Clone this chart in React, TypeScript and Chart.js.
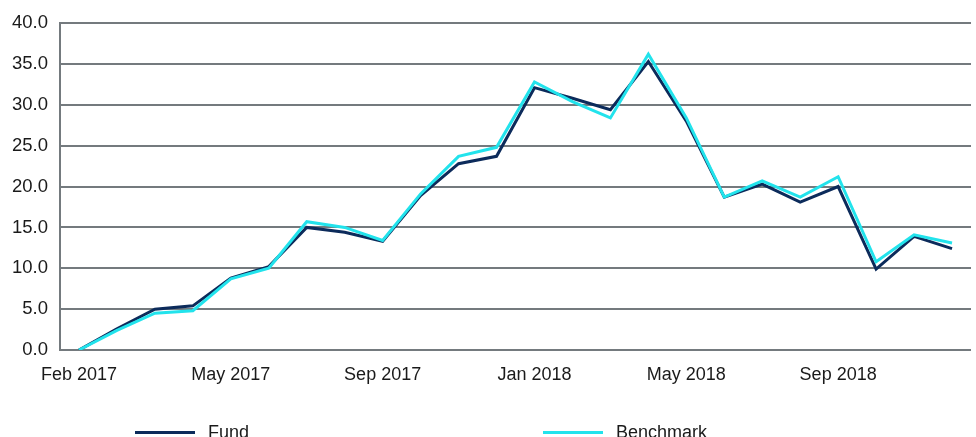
import React, { useEffect, useRef } from "react";
import { Chart, registerables } from "chart.js";

Chart.register(...registerables);

const categories = [
  "Feb 2017", "", "", "", "May 2017", "", "", "", "Sep 2017", "", "", "",
  "Jan 2018", "", "", "", "May 2018", "", "", "", "Sep 2018", "", "", "",
];
const fundValues = [
  0, 2.6, 5.0, 5.4, 8.8, 10.2, 15.0, 14.4, 13.3, 18.9, 22.8, 23.7,
  32.1, 30.8, 29.4, 35.3, 28.0, 18.7, 20.3, 18.1, 20.0, 9.9, 13.9, 12.4,
];
const benchmarkValues = [
  0, 2.4, 4.5, 4.8, 8.7, 10.0, 15.7, 15.0, 13.4, 19.1, 23.7, 24.8,
  32.8, 30.4, 28.4, 36.2, 28.4, 18.7, 20.7, 18.7, 21.2, 10.8, 14.1, 13.1,
];
const yTicks = { min: 0, max: 40, step: 5 };

const FUND_COLOR = "#0c2b5b";
const BENCH_COLOR = "#22e3ec";
const GRID_COLOR = "#747a7e";
const TEXT_COLOR = "#1a1a1a";
const FONT = "'Liberation Sans', Arial, sans-serif";

const legendItems = [
  { label: "Fund", color: FUND_COLOR, left: 135 },
  { label: "Benchmark", color: BENCH_COLOR, left: 543 },
];

export default function App() {
  const canvasRef = useRef<HTMLCanvasElement | null>(null);

  useEffect(() => {
    if (!canvasRef.current) return;
    const chart = new Chart(canvasRef.current, {
      type: "line",
      data: {
        labels: categories,
        datasets: [
          {
            label: "Fund",
            data: fundValues,
            borderColor: FUND_COLOR,
            backgroundColor: FUND_COLOR,
            borderWidth: 3,
            pointRadius: 0,
            tension: 0,
            order: 1,
          },
          {
            label: "Benchmark",
            data: benchmarkValues,
            borderColor: BENCH_COLOR,
            backgroundColor: BENCH_COLOR,
            borderWidth: 3,
            pointRadius: 0,
            tension: 0,
            order: 0,
          },
        ],
      },
      options: {
        animation: false,
        responsive: true,
        maintainAspectRatio: false,
        layout: { padding: { top: 22, right: 5, bottom: 0, left: 0 } },
        plugins: {
          legend: { display: false },
          tooltip: { enabled: false },
        },
        scales: {
          x: {
            offset: true,
            grid: { display: false, drawTicks: false },
            border: { display: false },
            ticks: {
              autoSkip: false,
              maxRotation: 0,
              padding: 14,
              color: TEXT_COLOR,
              font: { family: FONT, size: 18 },
            },
            afterFit: (scale: any) => {
              scale.height = 87;
            },
          },
          y: {
            min: yTicks.min,
            max: yTicks.max,
            ticks: {
              stepSize: yTicks.step,
              padding: 12,
              color: TEXT_COLOR,
              font: { family: FONT, size: 18.5 },
              callback: (v: any) => Number(v).toFixed(1),
            },
            grid: { color: GRID_COLOR, lineWidth: 2, drawTicks: false },
            border: { display: true, color: GRID_COLOR, width: 2 },
            afterFit: (scale: any) => {
              scale.width = 60;
            },
          },
        },
      },
    });
    return () => chart.destroy();
  }, []);

  return (
    <div
      style={{
        position: "fixed",
        left: 0,
        top: 0,
        width: 976,
        height: 437,
        background: "#fff",
      }}
    >
      <canvas ref={canvasRef} />
      {legendItems.map((it) => (
        <div
          key={it.label}
          style={{
            position: "absolute",
            left: it.left,
            top: 420,
            height: 24,
            display: "flex",
            alignItems: "center",
            fontFamily: FONT,
            fontSize: 18,
            color: TEXT_COLOR,
          }}
        >
          <span
            style={{
              display: "inline-block",
              width: 60,
              height: 3,
              background: it.color,
              marginRight: 13,
            }}
          />
          <span>{it.label}</span>
        </div>
      ))}
    </div>
  );
}
